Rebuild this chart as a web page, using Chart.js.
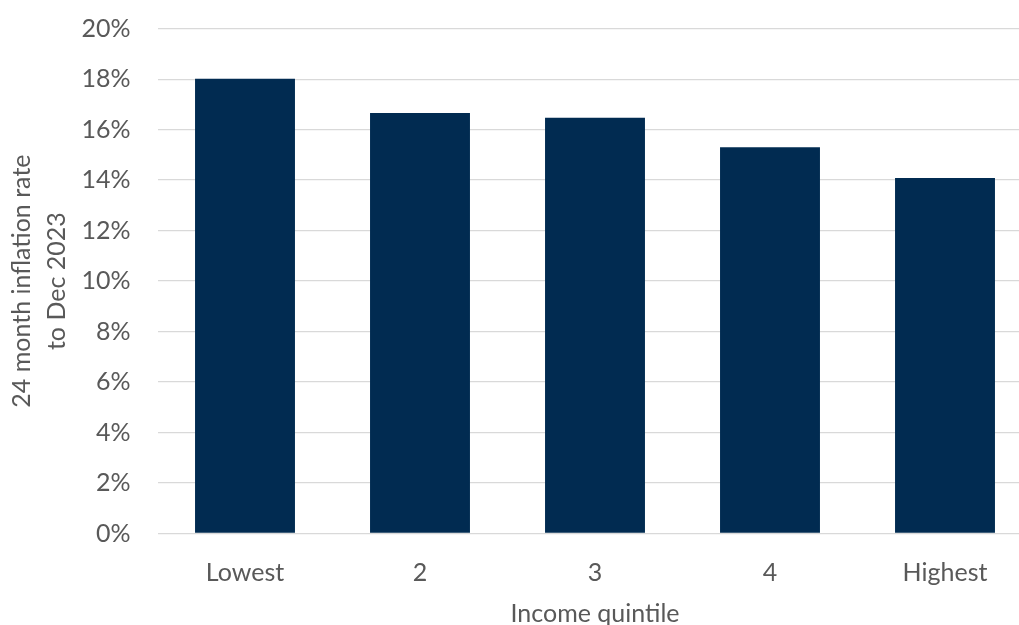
<!DOCTYPE html>
<html>
<head>
<meta charset="utf-8">
<script src="https://cdn.jsdelivr.net/npm/chart.js@4/dist/chart.umd.min.js"></script>
<style>
  html, body { margin: 0; padding: 0; background: #ffffff; overflow: hidden; }
  #wrap { position: relative; width: 1040px; height: 640px; }
</style>
</head>
<body>
<div id="wrap"><canvas id="chart"></canvas></div>
<script>
// 24-month inflation by household income quintile
const quintiles = ['Lowest', '2', '3', '4', 'Highest'];
const inflationRate = [18.02, 16.66, 16.47, 15.30, 14.08];
const yTicks = [0, 2, 4, 6, 8, 10, 12, 14, 16, 18, 20];

const textColor = '#595959';
const fontFamily = 'Lato, "Open Sans", sans-serif';

new Chart(document.getElementById('chart'), {
  type: 'bar',
  data: {
    labels: quintiles,
    datasets: [{
      data: inflationRate,
      backgroundColor: '#012B51',
      borderWidth: 0,
      barPercentage: 0.571,
      categoryPercentage: 1
    }]
  },
  options: {
    responsive: true,
    maintainAspectRatio: false,
    animation: false,
    layout: { padding: { top: 28.7, right: 7.5, left: 0, bottom: 0 } },
    plugins: { legend: { display: false }, tooltip: { enabled: false } },
    scales: {
      x: {
        grid: { display: false },
        border: { display: false },
        ticks: { color: textColor, font: { family: fontFamily, size: 25 }, padding: 16 },
        title: {
          display: true,
          text: 'Income quintile',
          color: textColor,
          font: { family: fontFamily, size: 25 },
          padding: { top: 8, bottom: 11 }
        },
        afterFit: (s) => { s.height = 106.5; }
      },
      y: {
        min: 0,
        max: 20,
        afterBuildTicks: (s) => { s.ticks = yTicks.map(v => ({ value: v })); },
        grid: { color: '#d9d9d9', lineWidth: 1.3, drawTicks: false },
        border: { display: false },
        ticks: {
          color: textColor,
          font: { family: fontFamily, size: 25 },
          padding: 27,
          callback: (v) => v + '%'
        },
        title: {
          display: true,
          text: ['24 month inflation rate', 'to Dec 2023'],
          color: textColor,
          font: { family: fontFamily, size: 25, lineHeight: 1.4 },
          padding: { top: 4, bottom: 0 }
        },
        afterFit: (s) => { s.width = 157.5; s.paddingTop = 0; s.paddingBottom = 0; }
      }
    }
  }
});
</script>
</body>
</html>
